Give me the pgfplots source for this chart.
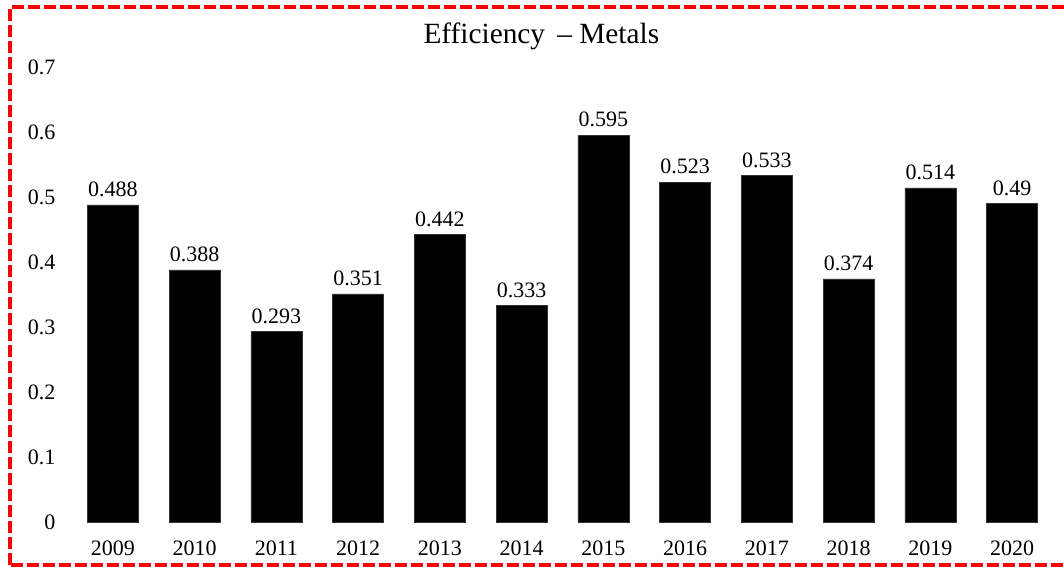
\documentclass[border=0pt]{standalone}
\usepackage{pgfplots}
\pgfplotsset{compat=1.18}
\usepackage{fontspec}
\setmainfont{Liberation Serif}
\begin{document}
\begin{tikzpicture}
\useasboundingbox (0,0) rectangle (798pt,426pt);
\draw[red, line width=3pt, dash pattern=on 9pt off 3pt] (7.5pt,2.25pt) rectangle (812pt,420.75pt);
\node[font=\fontsize{22}{25}\selectfont, anchor=center] at (406pt,399pt) {Efficiency \,– Metals};
\begin{axis}[
  at={(54pt,34.5pt)}, anchor=south west,
  scale only axis, width=735.75pt, height=341.25pt,
  xmin=-0.5, xmax=11.5, ymin=0, ymax=0.7,
  axis line style={draw=none},
  tick style={draw=none},
  xtick={0,...,11},
  xticklabels={2009,2010,2011,2012,2013,2014,2015,2016,2017,2018,2019,2020},
  ytick={0,0.1,0.2,0.3,0.4,0.5,0.6,0.7},
  yticklabels={0,0.1,0.2,0.3,0.4,0.5,0.6,0.7},
  yticklabel style={font=\fontsize{16.5}{18}\selectfont, anchor=east, xshift=-9pt},
  xticklabel style={font=\fontsize{16.5}{18}\selectfont, yshift=-6pt},
  ybar, bar width=38.25pt,
  nodes near coords,
  nodes near coords style={font=\fontsize{16.5}{18}\selectfont, yshift=2.5pt, /pgf/number format/fixed, /pgf/number format/precision=3, /pgf/number format/assume math mode=true},
  /pgf/number format/assume math mode=true,
  clip=false,
]
\addplot[fill=black, draw=black!80, line width=0.4pt] coordinates {
(0,0.488) (1,0.388) (2,0.293) (3,0.351) (4,0.442) (5,0.333)
(6,0.595) (7,0.523) (8,0.533) (9,0.374) (10,0.514) (11,0.49)
};
\end{axis}
\end{tikzpicture}
\end{document}
